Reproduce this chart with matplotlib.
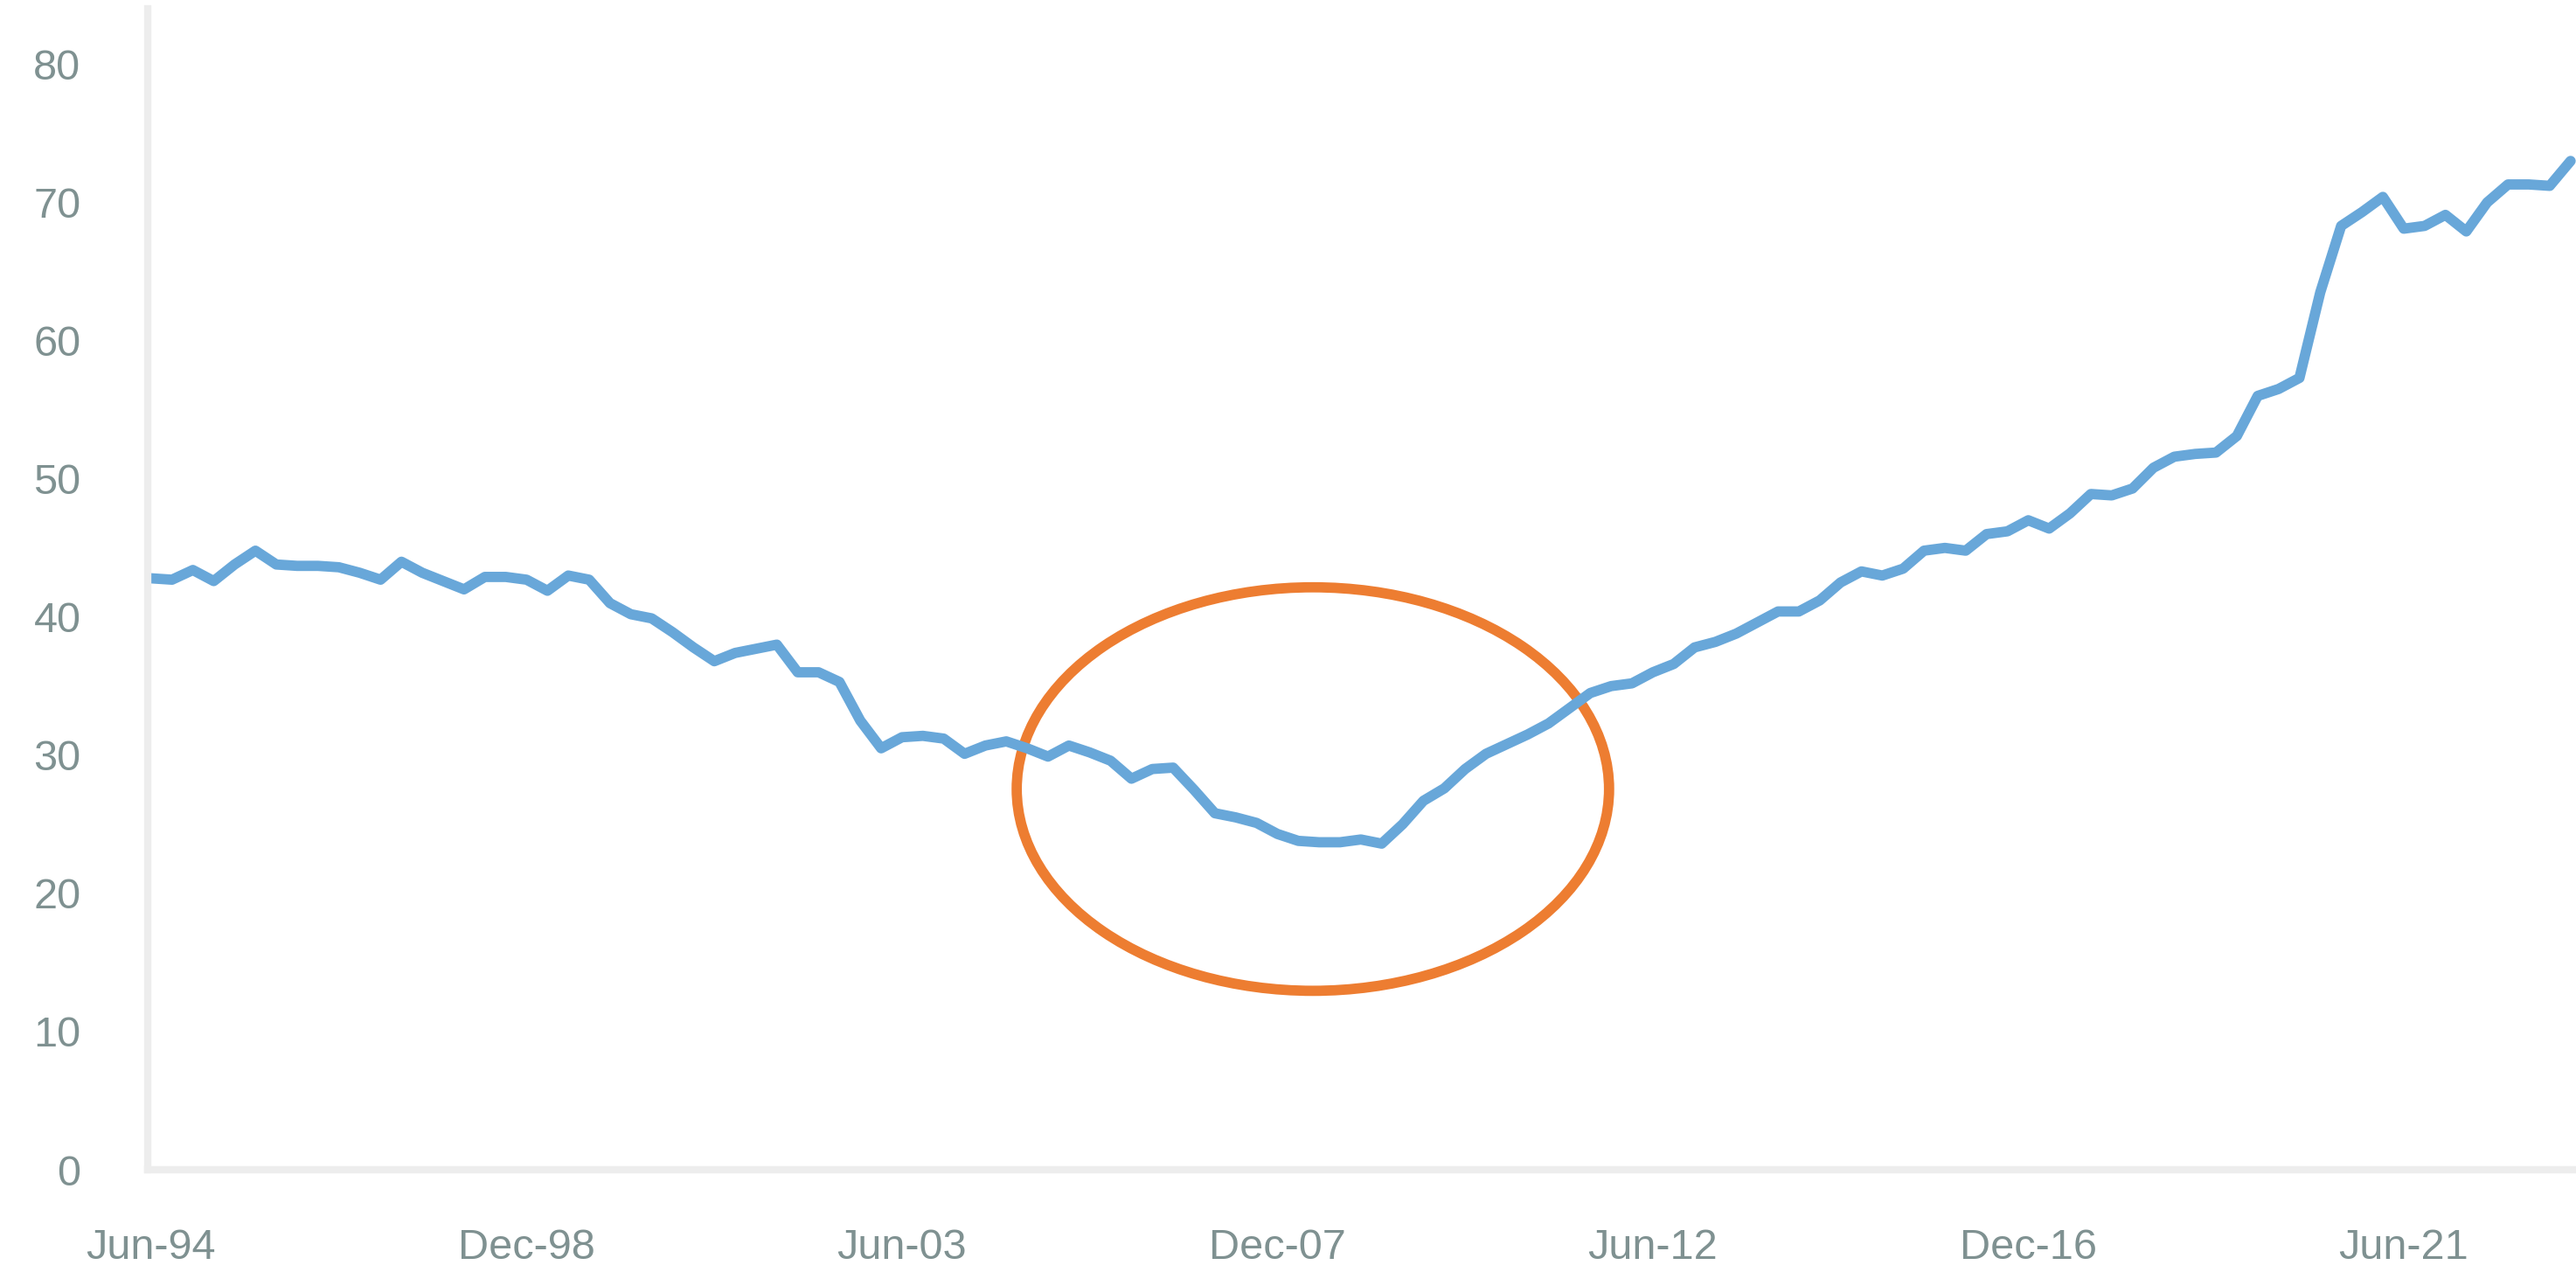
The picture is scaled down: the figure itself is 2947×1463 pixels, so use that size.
import numpy as np
import matplotlib.pyplot as plt
from matplotlib.patches import Ellipse

# quarterly series, Jun-94 .. Jun-23
values = [42.8, 42.7, 43.4, 42.6, 43.8, 44.8, 43.8, 43.7, 43.7, 43.6,
          43.2, 42.7, 44.0, 43.2, 42.6, 42.0, 42.9, 42.9, 42.7, 41.9,
          43.0, 42.7, 41.0, 40.2, 39.9, 38.9, 37.8, 36.8, 37.4, 37.7,
          38.0, 36.0, 36.0, 35.3, 32.5, 30.5, 31.3, 31.4, 31.2, 30.1,
          30.7, 31.0, 30.5, 29.9, 30.7, 30.2, 29.6, 28.3, 29.0, 29.1,
          27.5, 25.8, 25.5, 25.1, 24.3, 23.8, 23.7, 23.7, 23.9, 23.6,
          25.0, 26.7, 27.6, 29.0, 30.1, 30.8, 31.5, 32.3, 33.4, 34.5,
          35.0, 35.2, 36.0, 36.6, 37.8, 38.2, 38.8, 39.6, 40.4, 40.4,
          41.2, 42.5, 43.3, 43.0, 43.5, 44.8, 45.0, 44.8, 46.0, 46.2,
          47.0, 46.4, 47.5, 48.9, 48.8, 49.3, 50.8, 51.6, 51.8, 51.9,
          53.1, 56.0, 56.5, 57.3, 63.5, 68.3, 69.3, 70.4, 68.1, 68.3,
          69.1, 67.9, 70.0, 71.3, 71.3, 71.2, 73.0]
tick_labels = ["Jun-94", "Dec-98", "Jun-03", "Dec-07", "Jun-12", "Dec-16", "Jun-21"]
tick_step = 18  # quarters between labels
y_ticks = [0, 10, 20, 30, 40, 50, 60, 70, 80]

x = np.arange(len(values))

plt.rcParams['font.family'] = ['Liberation Sans', 'DejaVu Sans']
fig = plt.figure(figsize=(29.47, 14.63), dpi=100)
ax = fig.add_axes([0.0573, 0.0854, 0.9427, 0.9076])

ax.plot(x, values, color='#68a7d9', lw=8.5, solid_joinstyle='round', solid_capstyle='round')

# highlight around the trough
ell = Ellipse((55.7, 27.55), 28.4, 29.2, fill=False, edgecolor='#ED7D31', lw=8.5)
ax.add_patch(ell)

ax.set_xlim(-0.17, 116.26)
ax.set_ylim(0, 84)
ax.set_xticks(np.arange(len(tick_labels)) * tick_step)
ax.set_xticklabels(tick_labels)
ax.set_yticks(y_ticks)

for s in ['top', 'right']:
    ax.spines[s].set_visible(False)
for s in ['left', 'bottom']:
    ax.spines[s].set_color('#ededed')
    ax.spines[s].set_linewidth(6)

ax.tick_params(axis='both', length=0, labelsize=35, labelcolor='#7f9191')
ax.tick_params(axis='y', pad=55)
ax.tick_params(axis='x', pad=48)

fig.savefig('out.png', dpi=100)
